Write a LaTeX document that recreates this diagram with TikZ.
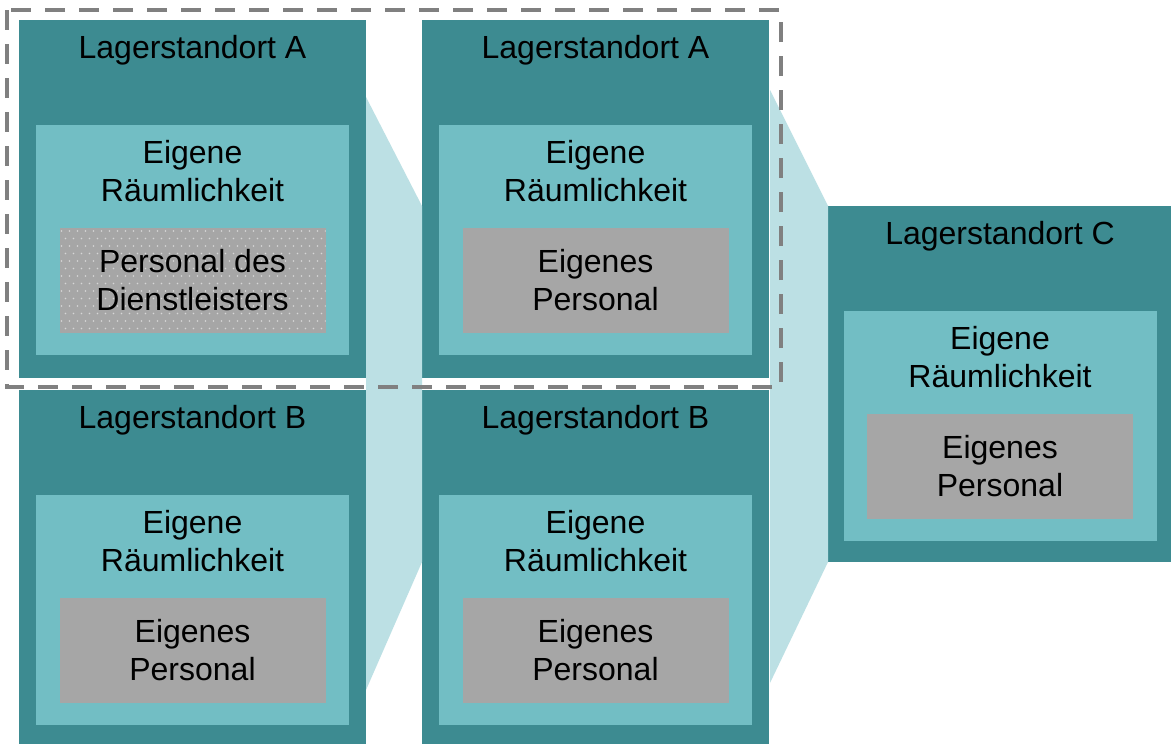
\documentclass[tikz,border=0pt]{standalone}
\usepackage{fontspec}
\setmainfont{Liberation Sans}
\usepackage{xcolor}
\definecolor{siteteal}{RGB}{61,139,145}
\definecolor{roomteal}{RGB}{114,190,196}
\definecolor{funnel}{RGB}{188,224,228}
\definecolor{staffgrey}{RGB}{166,166,166}
\definecolor{groupgrey}{RGB}{128,128,128}
\usetikzlibrary{positioning, calc}
\tikzstyle{Site} = [fill=siteteal, minimum width=347pt, minimum height=358pt,
inner sep=0pt, outer sep=0pt]
\tikzstyle{Room} = [fill=roomteal, minimum width=313pt, minimum height=230pt,
inner sep=0pt, outer sep=0pt, anchor=north]
\tikzstyle{Staff} = [fill=staffgrey, minimum width=266pt, minimum height=105pt,
inner sep=0pt, outer sep=0pt, anchor=north, align=center,
font=\fontsize{32}{38}\selectfont]
\tikzstyle{Label} = [anchor=north, inner sep=0pt, align=center,
font=\fontsize{32}{38}\selectfont]
\tikzstyle{Group} = [draw=groupgrey, line width=4pt, dash pattern=on 20pt off 14pt]

\begin{document}
\begin{tikzpicture}[x=1pt, y=-1pt]
    \clip (0,0) rectangle (1171,744);
    \fill[white] (0,0) rectangle (1171,744);

    \node [Site] (A1) at (192.5,199) {};
    \node [Site, below =12pt of A1] (B1) {};
    \node [Site, right =56pt of A1] (A2) {};
    \node [Site, below =12pt of A2] (B2) {};
    \coordinate (AB2) at ($(A2.east)!0.5!(B2.east)$);
    \node [Site, minimum width=344pt, minimum height=356pt, right =59pt of AB2] (C) {};

    % funnels between the columns
    \fill[funnel] ($(A1.north east)+(0,77)$) -- (A2.west |- C.north)
        -- (A2.west |- C.south) -- ($(B1.north east)+(0,300)$) -- cycle;
    \fill[funnel] ($(A2.north east)+(1,70)$) -- (C.north west)
        -- (C.south west) -- ($(B2.north east)+(1,293)$) -- cycle;

    \foreach \s/\t in {A1/Lagerstandort A, B1/Lagerstandort B, A2/Lagerstandort A,
        B2/Lagerstandort B, C/Lagerstandort C} {
        \node [Label] (\s-title) at ($(\s.north)+(0,15)$) {\t};
        \node [Room] (\s-room) at ($(\s.north)+(0,105)$) {};
        \node [Label] (\s-text) at ($(\s-room.north)+(0,15)$) {Eigene\\Räumlichkeit};
    }

    \node [Staff] (A1-staff) at ($(A1-room.north)+(0,103)$) {};
    \begin{scope}
        \clip (A1-staff.north west) rectangle (A1-staff.south east);
        \foreach \i in {0,...,33} {
            \foreach \j in {0,...,14} {
                \pgfmathsetmacro{\off}{mod(\j,2)*4}
                \fill[white, opacity=0.55] ($(A1-staff.north west)+(\i*8+2+\off,\j*7.5+3)$) circle (0.9);
            }
        }
    \end{scope}
    \node [Staff, fill=none] (A1-staff-text) at (A1-staff.north) {Personal des\\Dienstleisters};

    \foreach \s in {B1, A2, B2, C} {
        \node [Staff] (\s-staff) at ($(\s-room.north)+(0,103)$) {Eigenes\\Personal};
    }

    \draw[Group] ($(A1.north west)+(-12,-10)$) rectangle ($(A2.south east)+(12,9)$);
\end{tikzpicture}
\end{document}
